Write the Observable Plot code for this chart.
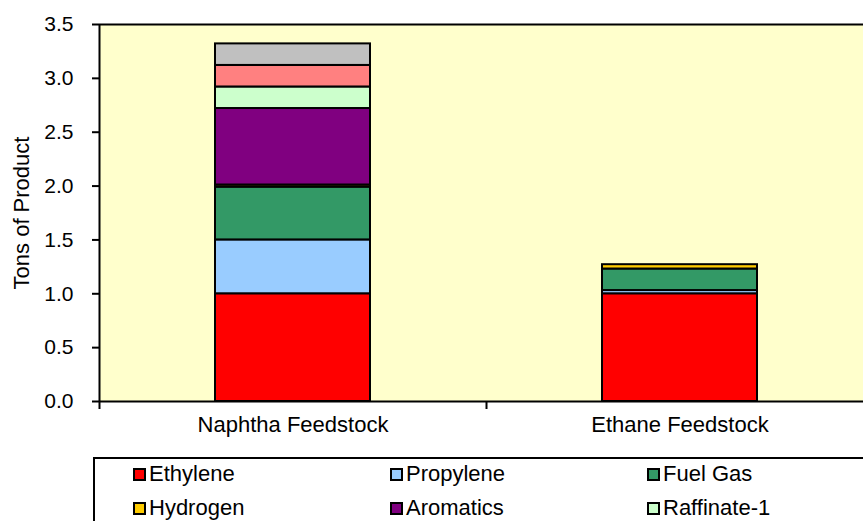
<!DOCTYPE html>
<html><head><meta charset="utf-8">
<script src="https://cdn.jsdelivr.net/npm/d3@7"></script>
<script src="https://cdn.jsdelivr.net/npm/@observablehq/plot@0.6"></script>
<style>
html,body{margin:0;padding:0;background:#fff;overflow:hidden;width:863px;height:521px;position:relative;}
#chart svg{display:block;overflow:hidden;}
.legend{position:absolute;left:93px;top:457px;width:800px;height:110px;border:2px solid #000;box-sizing:border-box;font:22px "Liberation Sans", Arial, sans-serif;color:#000;background:#fff;}
.item{position:absolute;display:flex;align-items:center;height:24px;white-space:nowrap;}
.sw{width:13px;height:13px;border:2px solid #000;box-sizing:border-box;margin-right:3px;}
</style></head>
<body>
<div id="chart"></div>
<div class="legend" id="legend"></div>
<script>
const categories = ["Naphtha Feedstock", "Ethane Feedstock"];
const products = ["Ethylene", "Propylene", "Fuel Gas", "Hydrogen", "Aromatics", "Raffinate-1", "Butadiene", "Fuel Oil"];
const colors = ["#FF0000", "#99CCFF", "#339966", "#FFCC00", "#800080", "#CCFFCC", "#FF8080", "#C0C0C0"];
const naphtha = [1.0, 0.5, 0.49, 0.02, 0.71, 0.20, 0.20, 0.20];
const ethane = [1.0, 0.03, 0.20, 0.04, 0, 0, 0, 0];
const yTicks = [0, 0.5, 1.0, 1.5, 2.0, 2.5, 3.0, 3.5];
// legend entries visible in the (cropped) legend box
const legendItems = products.slice(0, 6);

const values = [naphtha, ethane];
const data = [];
categories.forEach((c, i) => products.forEach((p, j) => {
  const v = values[i][j];
  if (v > 0) data.push({feed: c, product: p, tons: v});
}));

const xRange = [99, 873];
const step = (xRange[1] - xRange[0]) / categories.length;
const font = '"Liberation Sans", Arial, sans-serif';

const chart = Plot.plot({
  width: 863, height: 445,
  marginLeft: 99, marginRight: 0, marginTop: 24, marginBottom: 44,
  style: {fontFamily: font, fontSize: "21px", color: "black", background: "white", overflow: "hidden"},
  x: {domain: categories, range: xRange, paddingInner: 0.6, paddingOuter: 0.3, axis: null},
  y: {domain: [0, 3.5], axis: null},
  color: {domain: products, range: colors},
  marks: [
    Plot.frame({fill: "#FFFFCC", stroke: "none"}),
    Plot.barY(data, {x: "feed", y: "tons", fill: "product", stroke: "black", strokeWidth: 2}),
    Plot.ruleY([0, 3.5], {stroke: "black", strokeWidth: 2}),
    Plot.ruleX([categories[0]], {dx: -step / 2, y1: 0, y2: 3.5, stroke: "black", strokeWidth: 2}),
    Plot.axisY({ticks: yTicks, tickFormat: d3.format(".1f"), tickSize: 7, tickPadding: 19, strokeWidth: 2,
      label: null, fontSize: 21}),
    Plot.axisY({ticks: [], label: "Tons of Product", labelAnchor: "center", labelArrow: "none", labelOffset: 86, fontSize: 22}),
    Plot.axisX({tickSize: 8, tickFormat: () => "", dx: -step / 2, strokeWidth: 2, label: null}),
    Plot.axisX({tickSize: 0, tickPadding: 15, fontSize: 22, label: null})
  ]
});
document.getElementById("chart").appendChild(chart);

const legend = document.getElementById("legend");
const colX = [38, 295, 552];
const rowY = [3, 37];
legendItems.forEach((p, i) => {
  const item = document.createElement("div");
  item.className = "item";
  item.style.left = colX[i % 3] + "px";
  item.style.top = rowY[Math.floor(i / 3)] + "px";
  const sw = document.createElement("span");
  sw.className = "sw";
  sw.style.background = colors[products.indexOf(p)];
  const t = document.createElement("span");
  t.textContent = p;
  item.appendChild(sw); item.appendChild(t);
  legend.appendChild(item);
});
</script>
</body></html>
